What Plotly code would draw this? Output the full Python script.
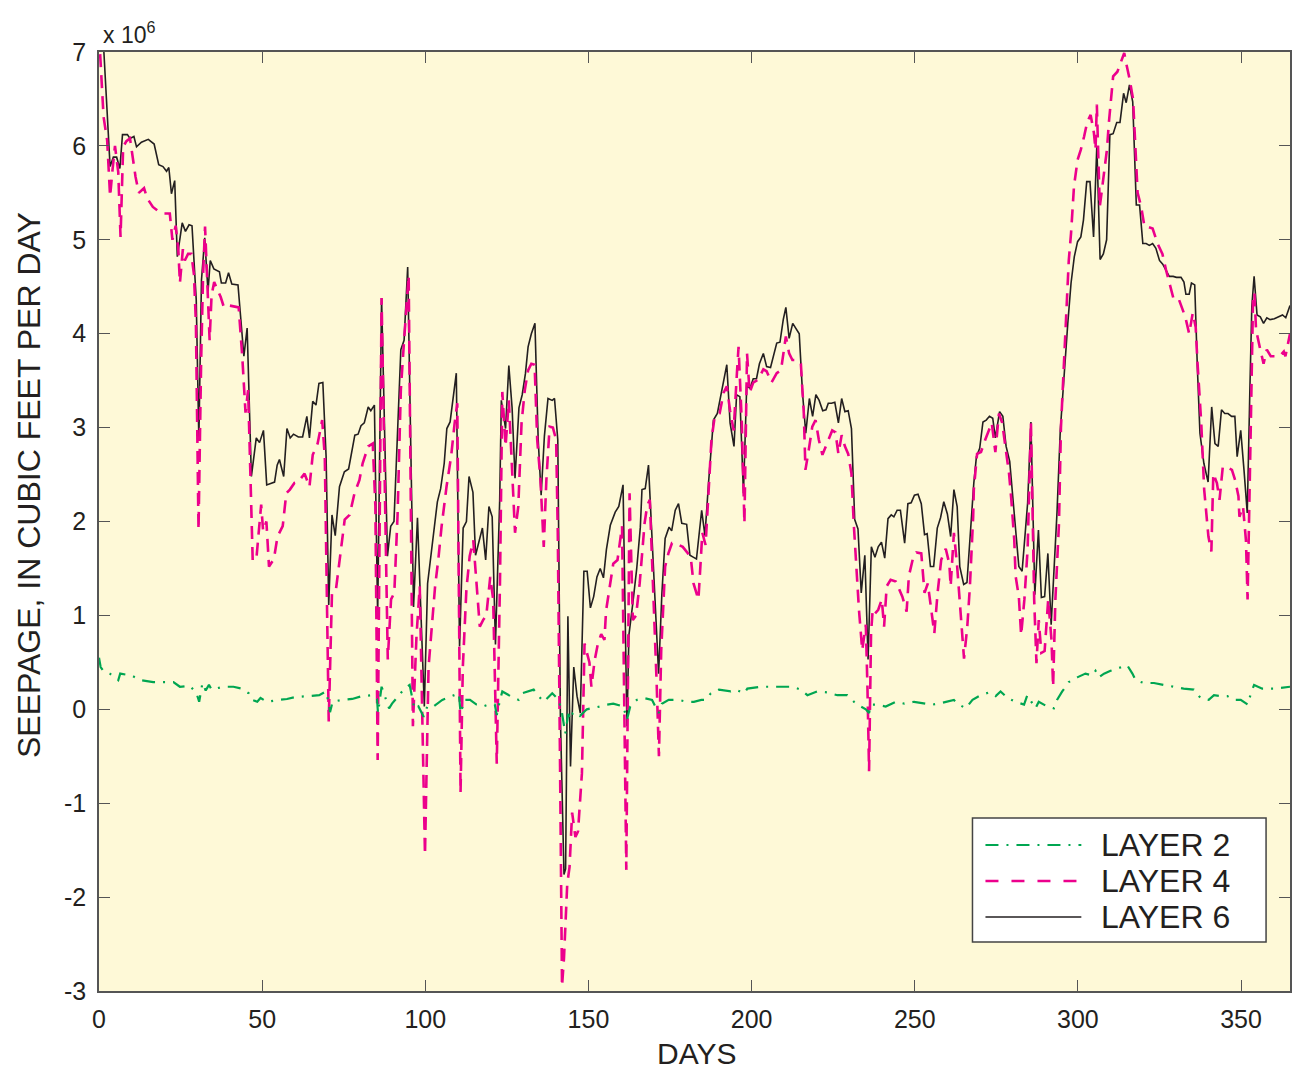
import plotly.graph_objects as go

# Daily seepage through the streambed, in millions of cubic feet per day
days_l6 = [0, 1.5, 3.4, 4.4, 5.4, 6.4, 7.2, 8.7, 9.5, 10.7, 11.5, 13.0, 15.1, 16.9, 18.3, 19.6, 20.7, 21.4, 22.2, 23.2,
           24.0, 25.5, 26.5, 27.6, 28.5, 29.8, 30.6, 31.4, 32.4, 33.4, 34.1, 35.2, 36.9, 37.5, 38.8, 39.7, 40.7, 42.6,
           44.4, 45.4, 46.7, 48.2, 49.2, 50.4, 51.4, 53.8, 54.6, 55.3, 56.6, 57.6, 58.6, 59.6, 61.1, 62.4, 63.7, 64.5,
           65.5, 66.5, 67.4, 68.6, 69.6, 70.4, 71.4, 72.4, 73.7, 75.2, 76.5, 77.4, 78.4, 79.4, 80.3, 81.3, 82.5, 83.3,
           84.4, 85.4, 86.6, 88.4, 89.4, 90.4, 91.5, 92.5, 93.5, 94.6, 96.4, 97.6, 99.7, 100.7, 103.7, 104.7, 105.8,
           106.6, 107.6, 108.6, 109.5, 110.5, 111.6, 112.6, 113.4, 114.6, 115.4, 117.5, 118.5, 119.5, 120.5, 121.5,
           122.8, 123.3, 124.6, 125.6, 126.6, 127.5, 128.7, 129.7, 130.7, 131.5, 132.5, 133.6, 134.6, 135.5, 136.5,
           137.6, 138.9, 139.6, 140.6, 141.4, 142.5, 143.0, 143.7, 144.5, 145.5, 146.5, 147.5, 148.6, 149.6, 150.6,
           151.6, 152.6, 153.6, 154.6, 155.5, 156.7, 158.2, 159.3, 160.6, 161.8, 162.4, 163.6, 164.8, 165.9, 166.4,
           167.4, 168.4, 171.5, 172.5, 173.5, 174.7, 175.5, 176.6, 177.6, 178.6, 180.1, 181.1, 182.1, 183.1, 184.7,
           185.7, 186.8, 187.8, 188.3, 189.5, 190.5, 191.6, 192.4, 193.4, 194.6, 195.4, 196.4, 197.5, 198.5, 199.5,
           200.5, 201.5, 202.4, 203.6, 204.6, 205.8, 206.7, 207.7, 208.7, 209.7, 210.5, 211.5, 212.6, 213.8, 214.6,
           215.6, 216.6, 217.7, 218.7, 219.7, 220.7, 221.8, 222.8, 223.5, 224.5, 225.5, 226.6, 227.6, 228.6, 229.6,
           230.6, 231.6, 232.6, 233.6, 234.7, 235.7, 236.7, 237.8, 238.8, 239.8, 240.8, 241.8, 242.8, 243.6, 244.6,
           245.6, 246.9, 247.9, 248.9, 249.9, 251.0, 252.0, 253.0, 253.8, 254.8, 255.8, 256.9, 257.9, 258.9, 260.0,
           261.0, 262.0, 263.0, 263.8, 265.0, 266.0, 267.1, 268.1, 268.9, 269.9, 270.9, 271.9, 272.9, 273.9, 274.7,
           276.0, 277.0, 278.0, 279.1, 279.8, 280.8, 281.9, 282.9, 283.7, 284.6, 285.6, 286.8, 287.9, 288.8, 289.8,
           290.8, 291.8, 292.8, 293.6, 294.6, 295.4, 296.1, 296.9, 297.9, 298.9, 299.9, 300.9, 301.7, 302.7, 303.7,
           304.8, 305.8, 306.8, 307.8, 308.8, 309.8, 310.8, 311.9, 312.9, 314.0, 314.8, 315.8, 316.8, 317.9, 318.9,
           319.9, 320.9, 321.9, 322.9, 323.9, 325.0, 326.0, 327.0, 328.0, 329.2, 330.2, 331.6, 332.5, 333.1, 334.1,
           334.8, 335.8, 336.6, 337.4, 338.6, 339.9, 341.0, 342.0, 343.0, 344.0, 345.0, 346.0, 347.1, 348.1, 348.8,
           349.9, 350.9, 351.9, 352.7, 353.3, 354.0, 354.9, 355.9, 356.9, 357.9, 358.9, 360.2, 361.7, 362.7, 363.7,
           365.0]
layer6 = [7.3, 7.0, 5.78, 5.88, 5.88, 5.76, 6.12, 6.12, 6.08, 6.10, 5.99, 6.04, 6.07, 6.02, 5.80, 5.78, 5.73, 5.77, 5.49, 5.63,
          4.82, 5.18, 5.09, 5.16, 5.15, 4.36, 2.87, 4.57, 5.02, 4.45, 4.78, 4.69, 4.66, 4.54, 4.54, 4.65, 4.53, 4.52,
          3.76, 4.06, 2.48, 2.89, 2.84, 2.97, 2.39, 2.42, 2.60, 2.66, 2.48, 2.99, 2.89, 2.93, 2.90, 2.90, 3.12, 2.89,
          3.28, 3.24, 3.47, 3.48, 2.69, 1.11, 2.07, 1.85, 2.37, 2.53, 2.56, 2.74, 2.92, 2.93, 3.02, 3.05, 3.22, 3.18,
          3.24, 0.99, 4.38, 1.63, 1.95, 2.00, 3.05, 3.83, 3.93, 4.71, 1.09, 2.04, 0.03, 1.34, 2.21, 2.35, 2.62,
          2.99, 3.06, 3.31, 3.58, 0.67, 1.93, 2.00, 2.48, 2.31, 1.64, 1.93, 1.59, 2.16, 2.05, 0.69,
          2.23, 3.29, 2.99, 3.66, 3.21, 2.46, 3.21, 3.35, 3.58, 3.86, 4.00, 4.11, 2.87, 2.28, 2.91,
          3.31, 3.29, 3.31, 2.87, -0.08, -1.76, -1.70, 0.99, -0.61, 0.45, 0.14, -0.04, 1.47, 1.47, 1.08,
          1.20, 1.41, 1.50, 1.40, 1.70, 1.96, 2.10, 2.16, 2.39, -0.18, 0.79, 1.13, 1.50, 1.94, 2.34,
          2.35, 2.60, 0.38, 1.23, 1.82, 1.94, 1.90, 2.12, 2.19, 1.98, 1.97, 1.64, 1.62, 1.60, 2.12,
          1.85, 2.41, 2.87, 3.08, 3.15, 3.33, 3.54, 3.67, 3.05, 2.80, 3.35, 3.33, 2.30, 3.44, 3.42,
          3.52, 3.52, 3.68, 3.79, 3.65, 3.64, 3.75, 3.90, 3.91, 4.15, 4.28, 3.95, 4.11, 4.04, 4.00,
          3.37, 2.94, 3.31, 3.12, 3.35, 3.29, 3.18, 3.19, 3.26, 3.26, 3.27, 3.05, 3.31, 3.17, 3.18,
          2.99, 2.02, 1.92, 1.24, 1.64, 0.53, 1.73, 1.62, 1.73, 1.78, 1.61, 2.03, 2.07, 2.05, 2.12,
          2.12, 1.77, 2.19, 2.20, 2.28, 2.29, 2.19, 1.86, 1.87, 1.52, 1.52, 1.93, 2.04, 2.21, 2.08,
          1.84, 2.34, 2.16, 1.52, 1.33, 1.35, 1.95, 2.41, 2.69, 2.78, 3.06, 3.08, 3.12, 3.10, 2.89,
          3.17, 3.12, 2.80, 2.64, 2.34, 1.95, 1.52, 1.47, 1.84, 2.20, 3.06, 1.22, 1.91, 1.19, 1.20,
          1.66, 0.90, 1.52, 2.10, 2.97, 3.40, 3.72, 4.11, 4.54, 4.82, 4.98, 5.03, 5.21, 5.62, 5.62,
          5.03, 6.00, 4.79, 4.85, 5.00, 6.12, 6.13, 6.25, 6.25, 6.56, 6.46, 6.65, 6.47, 5.37, 5.37,
          4.96, 4.96, 4.94, 4.96, 4.91, 4.78, 4.74, 4.68, 4.61, 4.61, 4.60, 4.60, 4.55, 4.42, 4.42,
          4.54, 4.52, 3.65, 2.94, 2.62, 2.42, 3.22, 2.83, 2.80, 3.19, 3.15, 3.15, 3.12, 3.12, 2.69,
          2.97, 2.55, 2.09, 3.40, 4.29, 4.61, 4.20, 4.18, 4.11, 4.17, 4.15, 4.16, 4.18, 4.20, 4.17,
          4.30]

days_l4 = [0, 1.4, 2.5, 3.4, 4.1, 4.9, 5.9, 6.6, 7.4, 8.4, 9.5, 10.2, 11.2, 12.2, 13.8, 14.8, 16.5, 18.0, 20.0, 21.7,
           22.5, 23.5, 24.3, 24.8, 25.7, 26.3, 27.3, 28.3, 29.1, 29.7, 30.5, 31.3, 31.9, 32.5, 33.4, 33.9, 34.5, 35.3,
           37.3, 38.3, 40.0, 42.8, 43.9, 44.9, 45.7, 46.4, 47.1, 48.2, 49.7, 50.3, 51.3, 52.1, 53.6, 54.7, 56.3, 57.4,
           58.5, 59.9, 61.0, 63.0, 64.5, 65.5, 67.0, 68.4, 69.2, 70.4, 71.4, 72.6, 73.3, 74.2, 75.3, 76.8, 78.3, 79.8,
           80.8, 82.5, 83.9, 84.7, 85.4, 86.6, 88.5, 89.5, 90.5, 91.5, 92.5, 93.5, 94.9, 96.2, 97.3, 98.3, 99.9, 101.0,
           102.0, 103.0, 104.0, 105.0, 106.5, 107.9, 109.0, 109.8, 110.8, 111.5, 112.6, 113.6, 114.7, 115.7, 116.7,
           117.7, 118.7, 119.9, 120.8, 121.9, 122.9, 123.6, 124.6, 125.6, 126.5, 127.5, 128.5, 129.5, 130.5, 131.5,
           132.5, 133.5, 134.3, 135.3, 136.3, 137.1, 138.1, 139.1, 140.1, 140.6, 141.3, 141.9, 142.5, 143.5, 144.2,
           145.0, 146.0, 146.8, 148.0, 148.8, 150.3, 150.9, 151.9, 152.9, 153.9, 154.9, 155.4, 156.6, 157.6, 158.9,
           160.3, 161.6, 162.6, 163.6, 164.6, 165.7, 166.7, 167.2, 168.0, 168.8, 170.9, 171.6, 172.3, 173.5, 174.5,
           175.6, 176.6, 178.9, 180.5, 181.5, 182.2, 183.7, 184.3, 184.9, 185.9, 186.7, 187.7, 188.7, 190.2, 191.4,
           192.4, 193.4, 194.5, 195.5, 196.0, 197.0, 197.8, 198.6, 199.4, 200.5, 202.0, 203.6, 204.6, 206.1, 207.7,
           209.0, 210.5, 211.5, 212.5, 214.0, 215.1, 216.0, 216.5, 217.5, 218.6, 219.6, 220.6, 221.7, 222.7, 223.7,
           224.7, 225.7, 226.6, 227.6, 228.6, 229.6, 230.6, 231.3, 232.9, 233.9, 235.0, 235.5, 236.0, 236.6, 237.1,
           237.8, 238.8, 239.9, 240.6, 241.4, 242.6, 244.2, 246.2, 247.5, 248.2, 249.4, 250.5, 252.0, 253.0, 254.0,
           255.0, 256.0, 257.0, 258.1, 259.5, 260.6, 261.0, 261.6, 262.0, 263.0, 264.1, 265.1, 266.1, 266.9, 267.9,
           268.1, 269.1, 270.3, 271.6, 272.6, 273.6, 274.7, 275.8, 276.8, 277.8, 278.9, 279.6, 280.5, 280.9, 281.9,
           282.6, 283.6, 284.6, 285.6, 286.6, 287.3, 288.0, 288.8, 289.8, 290.9, 291.9, 292.4, 293.1, 293.9, 294.2,
           294.8, 295.9, 296.5, 297.2, 297.9, 298.8, 299.9, 300.9, 301.9, 302.9, 303.9, 304.9, 305.4, 305.8, 306.7,
           307.7, 308.9, 309.5, 310.1, 310.8, 312.1, 313.0, 314.2, 314.8, 315.8, 316.9, 317.8, 318.3, 319.4, 320.4,
           321.2, 322.9, 324.4, 325.9, 327.0, 329.4, 331.0, 332.9, 334.1, 335.2, 336.1, 336.6, 337.8, 338.7, 340.0,
           340.9, 341.5, 342.6, 343.4, 344.4, 345.6, 347.2, 348.2, 349.2, 349.5, 350.6, 351.5, 352.0, 353.0, 353.7,
           354.1, 354.6, 355.9, 356.9, 357.9, 359.1, 360.5, 361.8, 363.1, 363.6, 365.0]
layer4 = [7.2, 6.31, 6.06, 5.46, 5.73, 6.00, 5.72, 5.03, 5.99, 6.05, 6.08, 5.90, 5.67, 5.50, 5.55, 5.44, 5.35, 5.31, 5.28, 5.28,
          5.00, 5.15, 4.90, 4.54, 4.90, 4.78, 4.85, 4.85, 4.63, 4.11, 1.91, 3.71, 4.63, 5.14, 4.27, 3.93, 4.41, 4.55,
          4.39, 4.28, 4.30, 4.28, 3.76, 3.16, 3.40, 2.58, 1.59, 1.59, 2.18, 1.90, 2.00, 1.52, 1.60, 1.84, 1.95, 2.30,
          2.34, 2.41, 2.42, 2.51, 2.37, 2.71, 2.83, 3.08, 2.69, -0.13, 1.24, 1.27, 1.48, 1.75, 2.02, 2.07, 2.30, 2.44,
          2.62, 2.80, 2.83, 2.16, -0.54, 4.38, 0.53, 1.17, 1.24, 2.07, 3.40, 3.93, 4.62, -0.18, 0.78, 1.31, -1.55, 0.45,
          0.87, 1.31, 1.60, 1.95, 2.37, 2.69, 3.05, 3.26, -0.89, 0.45, 1.28, 1.63, 1.80, 1.38, 0.88,
          0.95, 1.00, 1.41, 1.17, -0.58, 1.38, 3.38, 2.80, 3.29, 2.69, 1.88, 2.16, 3.05, 3.40, 3.61,
          3.68, 3.67, 2.87, 2.44, 1.73, 2.44, 3.01, 3.00, 2.87, 1.88, -0.61, -2.95, -2.65, -1.86, -1.68,
          -1.10, -1.36, -1.30, -0.68, 0.70, 0.50, 0.24, 0.52, 0.70, 0.80, 0.74, 1.05, 1.34, 1.55, 1.59,
          1.95, -1.71, 2.30, 0.95, 1.00, 1.34, 1.80, 1.98, 2.17, 2.23, 0.28, -0.50, 0.63, 1.52, 1.66,
          1.77, 1.77, 1.73, 1.66, 1.57, 1.34, 1.17, 1.52, 1.88, 1.75, 2.23, 2.87, 3.12, 3.15, 3.37,
          3.44, 3.18, 2.97, 3.58, 3.86, 3.05, 1.98, 3.79, 3.37, 3.48, 3.51, 3.62, 3.60, 3.48, 3.58,
          3.61, 3.97, 3.79, 3.72, 3.72, 3.68, 3.15, 2.55, 2.76, 3.01, 3.08, 2.87, 2.71, 2.80, 2.89,
          2.97, 2.95, 2.72, 2.92, 2.80, 2.72, 2.51, 1.98, 1.06, 0.63, 0.90, 0.24, -0.66, 0.80, 1.06,
          1.02, 1.06, 1.17, 0.88, 1.31, 1.38, 1.36, 1.20, 1.04, 1.42, 1.60, 1.67, 1.66, 1.24, 1.34,
          1.06, 0.81, 1.24, 1.59, 1.71, 1.55, 1.31, 1.63, 1.88, 1.52, 1.02, 0.54, 0.88, 1.31, 2.05,
          2.34, 2.72, 2.74, 2.87, 2.97, 3.05, 2.74, 3.15, 3.05, 2.80, 2.51, 2.23, 1.80, 1.42, 1.20,
          0.79, 1.17, 1.71, 3.06, 1.17, 0.49, 0.95, 0.60, 0.62, 1.17, 0.74, 0.24, 1.17, 1.88, 1.98,
          3.00, 3.86, 4.32, 4.78, 5.07, 5.57, 5.85, 5.96, 6.10, 6.26, 6.33, 6.14, 5.96, 6.44, 5.35,
          5.64, 5.96, 6.25, 6.51, 6.74, 6.79, 6.88, 6.99, 6.88, 6.72, 6.50, 5.92, 5.50, 5.35, 5.14,
          5.14, 5.12, 4.96, 4.85, 4.68, 4.36, 4.36, 4.18, 4.00, 4.22, 4.07, 3.72, 3.05, 2.34, 1.84,
          1.68, 2.51, 2.41, 2.23, 2.58, 2.58, 2.55, 2.44, 2.27, 2.05, 2.16, 1.80, 1.17, 3.05, 4.43,
          4.43, 4.04, 3.83, 3.68, 3.83, 3.76, 3.76, 3.76, 3.81, 3.76, 4.00]

days_l2 = [0, 0.5, 1.3, 3.3, 5.9, 6.5, 9.9, 12.9, 16.6, 19.7, 22.8, 24.8, 27.9, 29.9, 30.7, 31.7, 32.7, 33.7, 34.5, 38.1,
           41.2, 43.7, 45.9, 47.0, 48.5, 49.5, 51.5, 55.1, 57.6, 60.2, 63.8, 65.8, 67.5, 69.5, 70.5, 70.8, 71.6, 74.5,
           77.6, 80.6, 83.7, 85.2, 85.5, 86.6, 87.3, 88.9, 89.8, 91.3, 92.9, 94.5, 95.2, 96.0, 96.7, 97.9, 99.5, 100.6,
           102.1, 105.2, 107.8, 110.3, 110.8, 112.1, 113.7, 115.7, 117.7, 119.3, 121.3, 121.9, 122.9, 123.6, 126.1,
           128.6, 129.6, 133.2, 134.7, 136.3, 138.9, 140.9, 141.9, 142.9, 143.8, 144.5, 145.2, 146.2, 147.4, 149.5,
           153.5, 155.6, 157.6, 160.7, 161.8, 162.8, 164.8, 166.9, 169.5, 171.5, 172.5, 174.6, 177.6, 180.2, 182.3,
           184.6, 185.9, 187.5, 190.0, 193.6, 195.2, 197.7, 198.7, 202.8, 206.9, 210.0, 212.5, 215.0, 217.1, 220.1,
           223.2, 226.3, 229.3, 231.4, 233.4, 235.0, 236.0, 236.5, 238.0, 241.1, 244.2, 246.8, 249.8, 253.4, 255.4,
           258.5, 262.0, 263.1, 265.6, 267.7, 270.2, 272.8, 274.8, 276.3, 278.4, 280.9, 283.5, 284.5, 287.0, 288.0,
           290.6, 292.6, 293.6, 295.2, 297.2, 299.8, 302.3, 304.4, 305.4, 306.4, 308.0, 310.0, 311.5, 313.6, 315.1,
           316.7, 317.7, 320.2, 323.3, 326.3, 329.4, 332.4, 335.5, 337.6, 340.1, 341.7, 343.7, 345.8, 347.8, 349.9,
           352.1, 353.0, 354.0, 356.5, 360.1, 364.2, 365.0]
layer2 = [0.55, 0.45, 0.41, 0.38, 0.31, 0.38, 0.36, 0.31, 0.29, 0.29, 0.29, 0.24, 0.25, 0.17, 0.08, 0.28, 0.20, 0.26, 0.21, 0.24,
          0.24, 0.22, 0.17, 0.10, 0.08, 0.12, 0.08, 0.10, 0.11, 0.13, 0.14, 0.15, 0.15, 0.19, 0.06, -0.03, 0.08, 0.10,
          0.11, 0.14, 0.15, 0.11, -0.04, 0.24, 0.17, 0.01, 0.06, 0.12, 0.19, 0.24, 0.26, 0.12, 0.00, 0.03, -0.08, 0.03,
          0.02, 0.10, 0.14, 0.17, -0.04, 0.10, 0.10, 0.05, 0.03, 0.05, 0.05, -0.06, 0.10, 0.19, 0.14,
          0.10, 0.17, 0.21, 0.14, 0.08, 0.17, 0.10, -0.04, -0.26, -0.05, -0.11, -0.04, -0.03, -0.07, 0.00,
          0.03, 0.05, 0.06, 0.03, -0.11, 0.03, 0.10, 0.12, 0.10, -0.04, 0.06, 0.10, 0.10, 0.08, 0.08,
          0.10, 0.10, 0.17, 0.21, 0.19, 0.21, 0.17, 0.22, 0.24, 0.24, 0.24, 0.24, 0.21, 0.15, 0.19,
          0.18, 0.15, 0.15, 0.08, 0.03, 0.00, -0.04, 0.05, 0.05, 0.03, 0.08, 0.06, 0.08, 0.06, 0.05,
          0.07, 0.10, 0.06, 0.01, 0.10, 0.15, 0.18, 0.14, 0.19, 0.12, 0.08, 0.05, 0.15, 0.01, 0.08,
          0.03, 0.01, 0.10, 0.19, 0.29, 0.34, 0.38, 0.36, 0.41, 0.34, 0.38, 0.41, 0.43, 0.45, 0.47,
          0.38, 0.31, 0.28, 0.28, 0.26, 0.24, 0.22, 0.21, 0.12, 0.10, 0.15, 0.14, 0.14, 0.10, 0.10,
          0.05, 0.17, 0.26, 0.22, 0.22, 0.24, 0.24]

y_ticks = [-3, -2, -1, 0, 1, 2, 3, 4, 5, 6, 7]
y_tick_text = ["-3", "-2", "-1", "0", "1", "2", "3", "4", "5", "6", "7"]
x_ticks = [0, 50, 100, 150, 200, 250, 300, 350]
series_names = ["LAYER 2", "LAYER 4", "LAYER 6"]

FONT = "Liberation Sans, Arial, Helvetica, sans-serif"
INK = "#231F20"
FRAME = "#555555"
GREEN = "#00A651"
MAGENTA = "#EC008C"
DASH_L4 = "13px,8px"
DASH_L2 = "13px,8px,2px,8px"

fig = go.Figure()
fig.add_trace(go.Scatter(x=days_l6, y=layer6, mode="lines", name=series_names[2],
                         line=dict(color=INK, width=1.6)))
fig.add_trace(go.Scatter(x=days_l4, y=layer4, mode="lines", name=series_names[1],
                         line=dict(color=MAGENTA, width=2.6, dash=DASH_L4)))
fig.add_trace(go.Scatter(x=days_l2, y=layer2, mode="lines", name=series_names[0],
                         line=dict(color=GREEN, width=2.2, dash=DASH_L2)))

axis_common = dict(showline=True, linecolor=FRAME, linewidth=1.5, mirror="ticks",
                   ticks="inside", ticklen=11, tickwidth=1.3, tickcolor=FRAME,
                   showgrid=False, zeroline=False,
                   tickfont=dict(family=FONT, size=25, color=INK))

fig.update_xaxes(range=[0, 365], tickvals=x_ticks, ticklabelstandoff=5, **axis_common)
fig.update_yaxes(range=[-3, 7], tickvals=y_ticks, ticktext=y_tick_text, ticklabelstandoff=6, **axis_common)

# hand-built legend box, matching the long line samples
legend_shapes = [
    dict(type="rect", xref="paper", yref="paper", x0=0.7334, x1=0.9799, y0=0.0522, y1=0.1842,
         line=dict(color="#444444", width=1.5), fillcolor="white", layer="above"),
]
legend_rows = [(0.1555, GREEN, DASH_L2, 2.2), (0.1171, MAGENTA, "13px,13px", 2.6), (0.0788, INK, "solid", 1.6)]
annotations = []
for (yy, col, dash, w), name in zip(legend_rows, series_names):
    legend_shapes.append(dict(type="line", xref="paper", yref="paper", x0=0.7443, x1=0.8248, y0=yy, y1=yy,
                              line=dict(color=col, width=w, dash=dash), layer="above"))
    annotations.append(dict(xref="paper", yref="paper", x=0.8399, y=yy, text=name, showarrow=False,
                            xanchor="left", yanchor="middle", font=dict(family=FONT, size=32, color=INK)))

annotations += [
    dict(xref="paper", yref="paper", x=0.002, y=1.0, yshift=2, text="x 10<sup>6</sup>", showarrow=False,
         xanchor="left", yanchor="bottom", font=dict(family=FONT, size=23, color=INK)),
    dict(xref="paper", yref="paper", x=-0.0587, y=0.5389, text="SEEPAGE, IN CUBIC FEET PER DAY", textangle=-90,
         showarrow=False, xanchor="center", yanchor="middle", font=dict(family=FONT, size=32, color=INK)),
    dict(xref="paper", yref="paper", x=0.5013, y=-0.0847, text="DAYS", showarrow=False, borderpad=0,
         xanchor="center", yanchor="bottom", font=dict(family=FONT, size=30, color=INK)),
]

fig.update_layout(
    width=1296, height=1071,
    margin=dict(l=99, r=4, t=52, b=80),
    paper_bgcolor="white", plot_bgcolor="#FEF9D7",
    showlegend=False,
    shapes=legend_shapes, annotations=annotations,
    font=dict(family=FONT, color=INK),
)

fig.write_html("out.html")
